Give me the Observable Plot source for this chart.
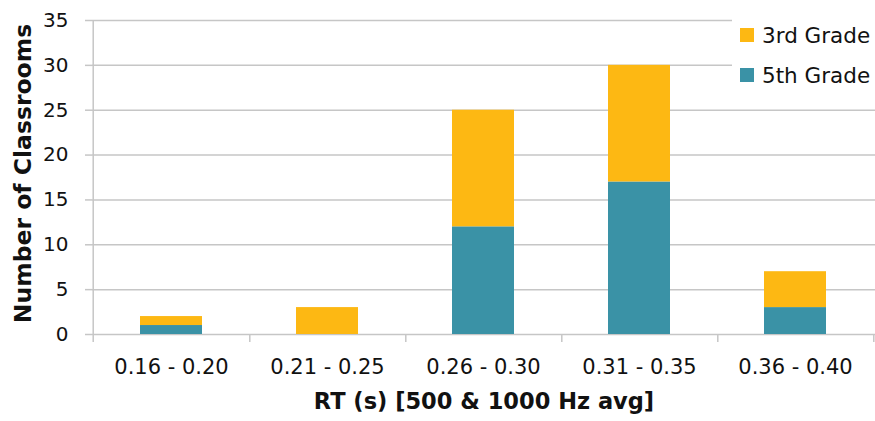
<!DOCTYPE html>
<html>
<head>
<meta charset="utf-8">
<script src="https://cdn.jsdelivr.net/npm/d3@7"></script>
<script src="https://cdn.jsdelivr.net/npm/@observablehq/plot@0.6"></script>
<style>
  html, body { margin: 0; padding: 0; background: #fff; }
  #wrap { position: relative; width: 875px; height: 421px; font-family: "DejaVu Sans", sans-serif; }
  #legend { position: absolute; left: 732px; top: 12px; width: 143px; height: 90px; background: #fff; color: #111; font-size: 21.5px; }
  .item { position: absolute; left: 8px; display: flex; align-items: center; height: 24px; }
  .sw { width: 14px; height: 14px; margin-right: 8px; }
</style>
</head>
<body>
<div id="wrap"></div>
<script>
const categories = ["0.16 - 0.20", "0.21 - 0.25", "0.26 - 0.30", "0.31 - 0.35", "0.36 - 0.40"];
const grade5 = [1, 0, 12, 17, 3];
const grade3 = [1, 3, 13, 13, 4];
const seriesNames = ["3rd Grade", "5th Grade"];
const seriesColors = ["#FDB813", "#3A92A6"];
const yTicks = [0, 5, 10, 15, 20, 25, 30, 35];

const rows = [];
categories.forEach((c, i) => {
  rows.push({cat: c, series: "5th Grade", value: grade5[i]});
  rows.push({cat: c, series: "3rd Grade", value: grade3[i]});
});

const grid = "#c6c6c6";
const chart = Plot.plot({
  width: 875,
  height: 421,
  marginLeft: 92,
  marginRight: 0,
  marginTop: 20,
  marginBottom: 87,
  style: {fontFamily: "'DejaVu Sans', sans-serif", color: "#111", background: "#fff"},
  x: {domain: categories, paddingInner: 0.6, paddingOuter: 0.3, label: null},
  y: {domain: [0, 35], label: null},
  color: {domain: seriesNames, range: seriesColors},
  marks: [
    Plot.ruleY(yTicks, {stroke: grid, strokeWidth: 1.5}),
    Plot.barY(rows, {x: "cat", y: "value", fill: "series"}),
    Plot.axisY({ticks: yTicks, tickSize: 7, tickPadding: 17, stroke: grid, strokeWidth: 1.5, label: null, fontSize: 20, fill: "#111"}),
    Plot.ruleX([categories[0]], {x: d => d, dx: -78.3, y1: -0.9, y2: 35, stroke: grid, strokeWidth: 1.5}),
    Plot.ruleX(categories, {x: d => d, dx: 78.3, y1: -0.9, y2: 0, stroke: grid, strokeWidth: 1.5}),
    Plot.axisX({tickSize: 0, tickPadding: 25, label: null, fontSize: 21, fill: "#111"}),
    Plot.text(["RT (s) [500 & 1000 Hz avg]"], {frameAnchor: "bottom", dy: 74, fontWeight: "bold", fontSize: 22.5, fill: "#111"}),
    Plot.text(["Number of Classrooms"], {frameAnchor: "left", textAnchor: "middle", rotate: -90, dx: -69, dy: -4, fontWeight: "bold", fontSize: 23.5, fill: "#111"})
  ]
});

const wrap = document.getElementById("wrap");
wrap.appendChild(chart);
const legend = document.createElement("div");
legend.id = "legend";
seriesNames.forEach((name, i) => {
  const it = document.createElement("div");
  it.className = "item";
  it.style.top = (11 + i * 40) + "px";
  const sw = document.createElement("span");
  sw.className = "sw";
  sw.style.background = seriesColors[i];
  const tx = document.createElement("span");
  tx.textContent = name;
  it.appendChild(sw);
  it.appendChild(tx);
  legend.appendChild(it);
});
wrap.appendChild(legend);
</script>
</body>
</html>
